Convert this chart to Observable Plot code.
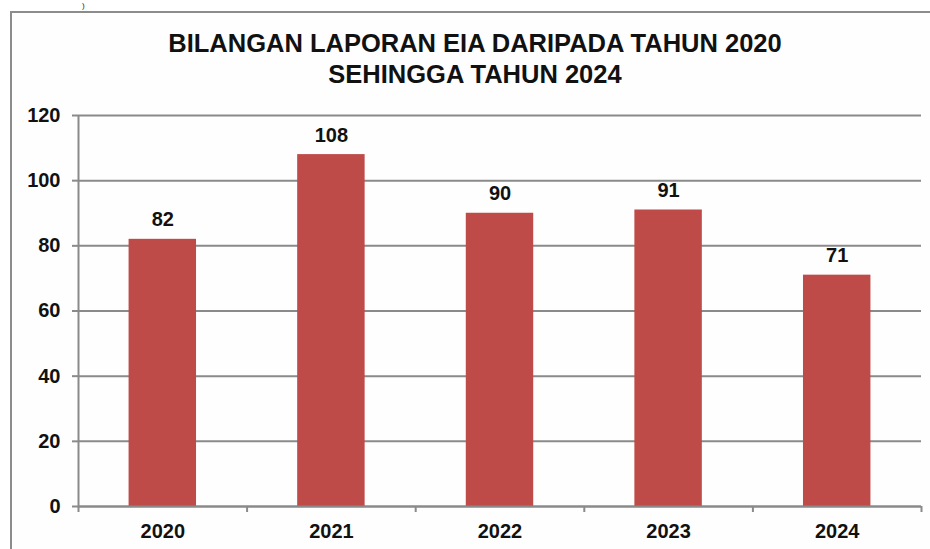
<!DOCTYPE html>
<html>
<head>
<meta charset="utf-8">
<script src="https://cdn.jsdelivr.net/npm/d3@7"></script>
<script src="https://cdn.jsdelivr.net/npm/@observablehq/plot@0.6"></script>
<style>
  html, body { margin: 0; padding: 0; background: #fff; }
  #wrap { position: relative; width: 930px; height: 549px; overflow: hidden; font-family: Arial, "Liberation Sans", sans-serif; }
  #frame { position: absolute; left: 10px; top: 11px; right: -4px; bottom: -4px; border-left: 2px solid #8c8c8c; border-top: 2px solid #8c8c8c; background: #fefefe; }
  #title { position: absolute; left: 10px; top: 28px; width: 930px; text-align: center; font: bold 25.5px/31px Arial, "Liberation Sans", sans-serif; color: #111; white-space: nowrap; }
  #chart { position: absolute; left: 0; top: 95px; }
  #stray { position: absolute; left: 82px; top: 1px; font: 8px/9px Arial, "Liberation Sans", sans-serif; color: #222; }
</style>
</head>
<body>
<div id="wrap">
  <div id="stray">)</div>
  <div id="frame"></div>
  <div id="title">BILANGAN LAPORAN EIA DARIPADA TAHUN 2020<br>SEHINGGA TAHUN 2024</div>
  <div id="chart"></div>
</div>
<script>
const years = ["2020", "2021", "2022", "2023", "2024"];
const reports = [82, 108, 90, 91, 71];
const yTicks = [0, 20, 40, 60, 80, 100, 120];

const data = years.map((y, i) => ({year: y, value: reports[i], i}));
const gray = "#8a8a8a";
const boundaries = d3.range(0, years.length + 1);
const centers = years.map((_, i) => i + 0.5);

const chart = Plot.plot({
  width: 930,
  height: 454,
  marginTop: 20,
  marginBottom: 43,
  marginLeft: 78,
  marginRight: 9,
  style: {background: "transparent", fontFamily: "Arial, 'Liberation Sans', sans-serif", color: "#111"},
  x: {type: "linear", domain: [0, years.length], axis: null},
  y: {domain: [0, 120], axis: null},
  marks: [
    Plot.gridY(yTicks, {stroke: gray, strokeOpacity: 1, strokeWidth: 2}),
    Plot.rectY(data, {x1: d => d.i + 0.3, x2: d => d.i + 0.7, y1: 0, y2: "value", fill: "#be4b48"}),
    Plot.ruleX([0], {stroke: gray, strokeWidth: 2}),
    Plot.ruleY([0], {stroke: gray, strokeWidth: 2}),
    Plot.axisY({ticks: yTicks, tickSize: 6, tickPadding: 12, stroke: gray, strokeWidth: 2, strokeOpacity: 1,
      fontSize: 20, fontWeight: "bold", fill: "#111", label: null}),
    Plot.axisX({ticks: boundaries, tickSize: 6, tickFormat: () => "", stroke: gray, strokeWidth: 2, strokeOpacity: 1, label: null}),
    Plot.axisX({ticks: centers, tickSize: 0, tickPadding: 17, tickFormat: d => years[Math.floor(d)],
      fontSize: 20, fontWeight: "bold", fill: "#111", label: null}),
    Plot.text(data, {x: d => d.i + 0.5, y: "value", text: d => String(d.value), dy: -13, lineAnchor: "bottom",
      fontSize: 20, fontWeight: "bold", fill: "#111"})
  ]
});
document.getElementById("chart").appendChild(chart);
</script>
</body>
</html>
